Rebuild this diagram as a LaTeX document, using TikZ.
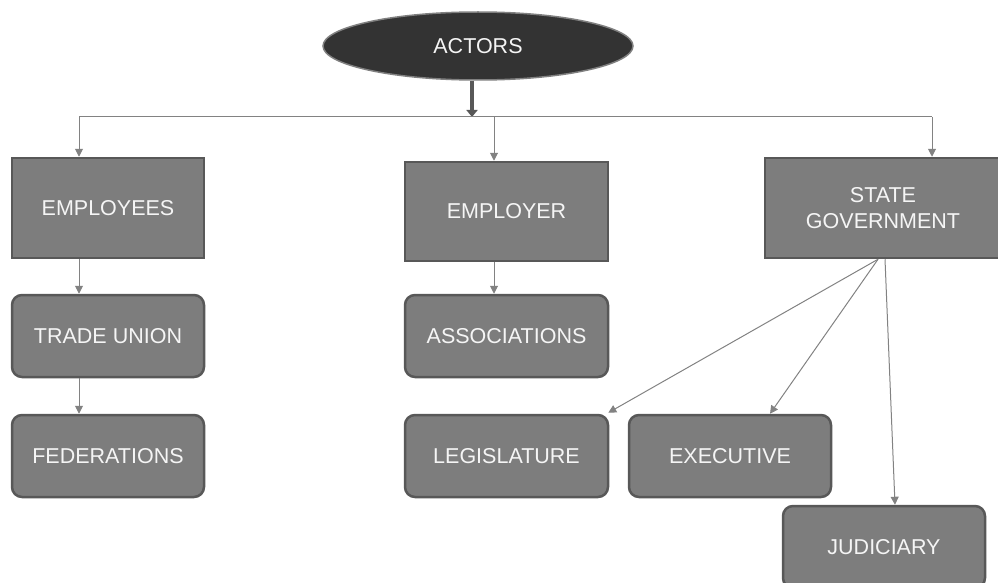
\documentclass[tikz,border=0pt]{standalone}
\usepackage{fontspec}
\setmainfont{Liberation Sans}
\definecolor{BoxFill}{RGB}{125, 125, 125}
\definecolor{BoxEdge}{RGB}{88, 88, 88}
\definecolor{HeadFill}{RGB}{51, 51, 51}
\definecolor{HeadEdge}{RGB}{128, 128, 128}
\definecolor{LinkGray}{RGB}{130, 130, 130}
\definecolor{TextWhite}{RGB}{245, 245, 245}
\usetikzlibrary{arrows.meta, positioning, shapes.geometric}

\begin{document}
\begin{tikzpicture}[x=1pt, y=-1pt]
        % --- Styles ---
        \tikzstyle{actorbox}=[draw=BoxEdge, line width=2.5pt, fill=BoxFill, text=TextWhite, inner sep=0pt, align=center, font=\fontsize{21.5}{26}\selectfont]
        \tikzstyle{subbox}=[actorbox, rounded corners=10pt, minimum height=82pt]
        \tikzstyle{link}=[draw=LinkGray, line width=1pt, -{Triangle[length=8pt, width=8pt]}]
        \useasboundingbox (0,0) rectangle (998,583);

        % --- 1. Top ---
        \node[ellipse, draw=HeadEdge, line width=1.5pt, fill=HeadFill, text=TextWhite, minimum width=310pt, minimum height=68pt, font=\fontsize{21.5}{26}\selectfont] (actors) at (478,46) {ACTORS};
        \coordinate (hub) at (472,117);
        \coordinate (busL) at (79,117);
        \coordinate (busM) at (494,117);
        \coordinate (busR) at (932,117);
        \draw[draw=BoxEdge, line width=4pt, -{Triangle[length=7pt, width=11pt]}] (actors.south -| hub) -- (hub);
        \draw[draw=LinkGray, line width=1pt] (busL) -- (busR);

        % --- 2. Main actors ---
        \node[actorbox, minimum width=192pt, minimum height=100pt] (employees) at (108,208) {EMPLOYEES};
        \node[actorbox, minimum width=203pt, minimum height=99pt] (employer) at (506.5,211.5) {EMPLOYER};
        \node[actorbox, minimum width=236pt, minimum height=100pt] (government) at (883,208) {STATE\\GOVERNMENT};
        \draw[link] (busL) -- (busL |- employees.north);
        \draw[link] (busM) -- (busM |- employer.north);
        \draw[link] (busR) -- (busR |- government.north);

        % --- 3. Employee side ---
        \node[subbox, minimum width=192pt] (tradeunion) at (108,336) {TRADE UNION};
        \node[subbox, minimum width=192pt] (federations) at (108,456) {FEDERATIONS};
        \draw[link] (employees.south -| busL) -- (tradeunion.north -| busL);
        \draw[link] (tradeunion.south -| busL) -- (federations.north -| busL);

        % --- 4. Employer side ---
        \node[subbox, minimum width=203pt] (associations) at (506.5,336) {ASSOCIATIONS};
        \draw[link] (employer.south -| busM) -- (associations.north -| busM);

        % --- 5. State side ---
        \node[subbox, minimum width=203pt] (legislature) at (506.5,456) {LEGISLATURE};
        \node[subbox, minimum width=202pt] (executive) at (730,456) {EXECUTIVE};
        \node[subbox, minimum width=202pt] (judiciary) at (884,547) {JUDICIARY};
        \draw[link] ([xshift=-5pt]government.south) -- ([xshift=-1pt, yshift=1pt]legislature.north east);
        \draw[link] ([xshift=-5pt]government.south) -- ([xshift=40pt]executive.north);
        \draw[link] ([xshift=2pt]government.south) -- ([xshift=11pt]judiciary.north);

    \end{tikzpicture}
\end{document}
